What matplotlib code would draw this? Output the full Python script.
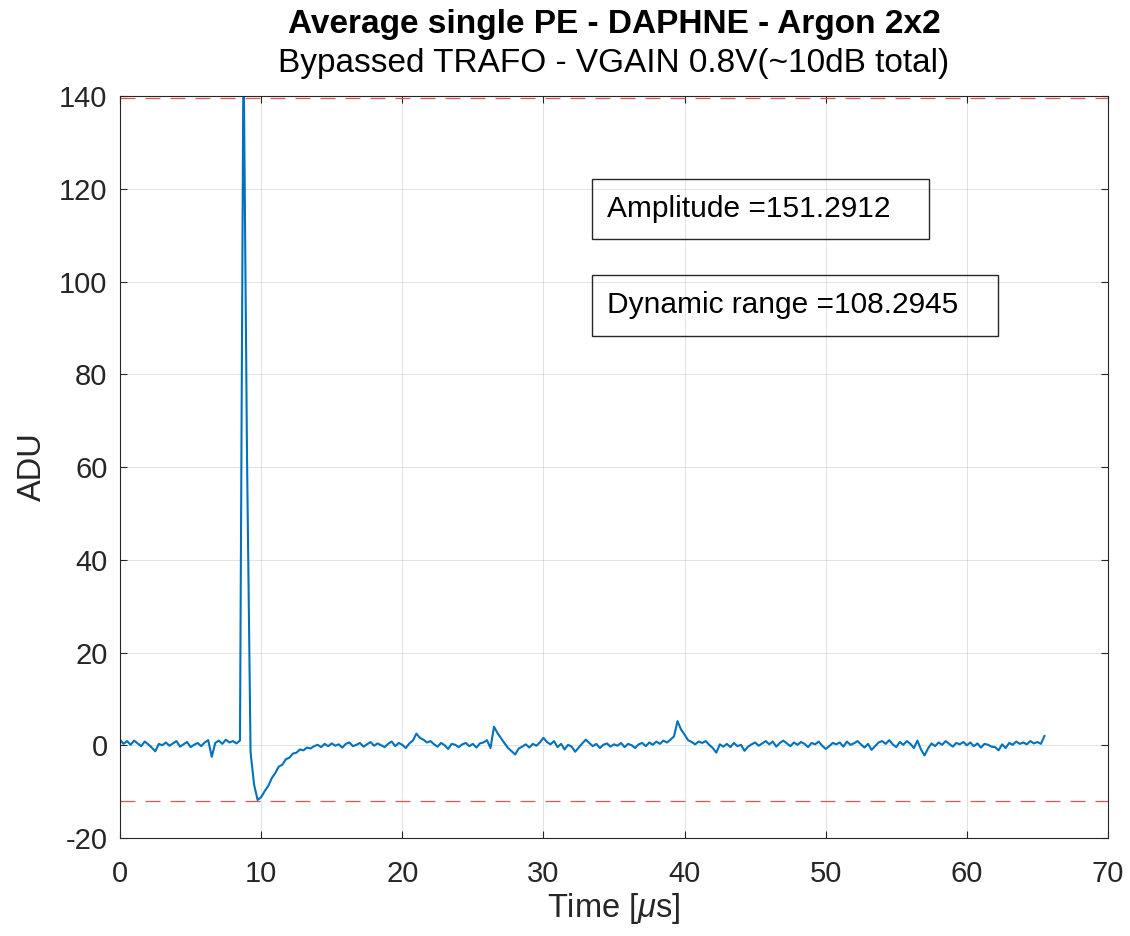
import matplotlib.pyplot as plt
import numpy as np
from matplotlib.patches import Rectangle

plt.rcParams['font.family'] = ['Liberation Sans', 'DejaVu Sans']
plt.rcParams['mathtext.fontset'] = 'custom'
plt.rcParams['mathtext.it'] = 'Liberation Sans:italic'
plt.rcParams['axes.unicode_minus'] = False

# sample step of the averaged waveform (us)
sample_step_us = 0.25

# baseline before the pulse, 0.00 .. 8.50 us
baseline_pre = [
    1.2, 0.3, 0.9, 0.1, 1.0, 0.4, -0.2, 0.8,
    0.2, -0.5, -1.3, 0.3, 0.0, 0.6, -0.1, 0.4,
    0.9, -0.3, 0.2, 0.7, -0.4, 0.1, 0.5, -0.2,
    0.6, 1.1, -2.5, 0.5, 1.0, 0.3, 1.2, 0.6,
    0.9, 0.4, 1.0,
]

# pulse + undershoot, 8.75 .. 13.75 us
pulse = [
    151.3, 62.0, -1.5, -8.5, -11.8, -11.2, -9.9, -8.8,
    -7.1, -6.0, -4.6, -4.2, -3.0, -2.7, -1.8, -1.6,
    -0.9, -1.1, -0.5, -0.7, -0.2,
]

# baseline after recovery, 14.00 .. 65.50 us
baseline_post = [
    0.1, -0.4, 0.3, -0.2,   # 14
    0.4, -0.1, 0.2, -0.5,   # 15
    0.3, 0.6, -0.2, 0.1,    # 16
    0.5, -0.3, 0.2, 0.7,    # 17
    -0.1, 0.4, 0.0, -0.4,   # 18
    0.3, 0.8, -0.2, 0.5,    # 19
    0.1, -0.6, 0.4, 1.0,    # 20
    2.5, 1.6, 1.2, 0.6,     # 21
    0.9, 0.2, -0.3, 0.5,    # 22
    0.0, -0.8, 0.3, 0.1,    # 23
    -0.4, 0.2, 0.5, -0.2,   # 24
    0.3, -0.5, 0.4, 0.6,    # 25
    1.1, -0.6, 4.0, 2.6,    # 26
    1.5, 0.4, -0.6, -1.3,   # 27
    -2.0, -0.7, -0.3, 0.2,  # 28
    -0.5, 0.3, -0.1, 0.6,   # 29
    1.6, 0.7, 0.2, 0.9,     # 30
    -0.4, 0.3, -0.9, 0.1,   # 31
    -0.3, -1.4, -0.5, 0.4,  # 32
    1.2, 0.5, -0.2, 0.3,    # 33
    -0.6, 0.1, 0.4, -0.3,   # 34
    0.2, -0.1, 0.5, -0.4,   # 35
    0.3, 0.0, -0.6, 0.2,    # 36
    0.5, -0.2, 0.6, 0.1,    # 37
    0.8, 0.3, 1.0, 0.6,     # 38
    1.2, 1.9, 5.2, 3.4,     # 39
    2.3, 1.1, 0.7, 0.2,     # 40
    0.8, 0.5, 0.9, 0.1,     # 41
    -0.6, -1.6, 0.2, -0.3,  # 42
    0.3, -0.4, 0.5, -0.2,   # 43
    0.1, -1.2, -0.3, 0.2,   # 44
    0.6, -0.1, 0.4, 0.9,    # 45
    0.2, 0.8, -0.3, 0.5,    # 46
    1.0, 0.4, -0.2, 0.6,    # 47
    0.1, 0.7, 0.3, -0.4,    # 48
    0.5, 0.2, 0.8, -0.1,    # 49
    -0.8, -0.2, 0.5, 0.2,   # 50
    0.6, -0.3, 0.8, 0.1,    # 51
    0.4, 0.9, 0.2, -0.5,    # 52
    0.3, -1.0, -0.2, 0.6,   # 53
    0.9, 0.3, 1.1, 0.2,     # 54
    -0.4, 0.7, 0.1, 0.9,    # 55
    0.3, -0.6, 1.0, -0.9,   # 56
    -2.2, -0.7, 0.4, -0.2,  # 57
    0.6, 0.1, 0.9, 0.3,     # 58
    -0.3, 0.5, 0.2, 0.7,    # 59
    0.0, 0.6, -0.2, 0.4,    # 60
    -0.5, 0.3, 0.1, -0.3,   # 61
    -0.4, -1.1, 0.2, -0.6,  # 62
    0.5, 0.1, 0.8, 0.3,     # 63
    0.6, 0.2, 0.9, 0.4,     # 64
    0.7, 0.3, 2.0,          # 65
]

upper_level = 139.5
lower_level = -12.0
amplitude = 151.2912
dynamic_range = 108.2945

adu = np.array(baseline_pre + pulse + baseline_post)
time_us = np.arange(len(adu)) * sample_step_us

fig = plt.figure(figsize=(11.3, 9.36), dpi=100)
ax = fig.add_axes([0.1062, 0.1047, 0.8743, 0.7927])

ax.plot(time_us, adu, color='#0072BD', linewidth=1.5)
ax.axhline(upper_level, color='#e05555', linestyle=(0, (12, 8)), linewidth=0.9)
ax.axhline(lower_level, color='#e05555', linestyle=(0, (12, 8)), linewidth=0.9)

ax.set_xlim(0, 70)
ax.set_ylim(-20, 140)
ax.set_xticks(np.arange(0, 71, 10))
ax.set_yticks(np.arange(-20, 141, 20))
ax.grid(True, color='#262626', alpha=0.13, linewidth=0.7)
ax.tick_params(direction='in', length=5, width=0.8, colors='#262626',
               labelsize=21, top=True, right=True)
ax.tick_params(axis='x', pad=16)
ax.tick_params(axis='y', pad=9)
for s in ax.spines.values():
    s.set_color('#262626')
    s.set_linewidth(0.8)

ax.set_xlabel('Time [$\\mu$s]', fontsize=23.5, color='#262626', labelpad=2)
ax.set_ylabel('ADU', fontsize=23.5, color='#262626', labelpad=8)

fig.text(0.5434, 0.9735, 'Average single PE - DAPHNE - Argon 2x2', ha='center', va='center',
         fontsize=24, fontweight='bold', color='black')
fig.text(0.5434, 0.9320, 'Bypassed TRAFO - VGAIN 0.8V(~10dB total)', ha='center', va='center',
         fontsize=24, color='black')

# annotation boxes
fig.patches.append(Rectangle((0.5239, 0.7447), 0.2982, 0.0641, transform=fig.transFigure,
                             fill=False, edgecolor='#262626', linewidth=1.0))
fig.patches.append(Rectangle((0.5239, 0.6410), 0.3593, 0.0652, transform=fig.transFigure,
                             fill=False, edgecolor='#262626', linewidth=1.0))
fig.text(0.5372, 0.7767, 'Amplitude =' + f'{amplitude:.4f}', ha='left', va='center',
         fontsize=21.5, color='black')
fig.text(0.5372, 0.6741, 'Dynamic range =' + f'{dynamic_range:.4f}', ha='left', va='center',
         fontsize=21.5, color='black')

fig.savefig('out.png', dpi=100)
